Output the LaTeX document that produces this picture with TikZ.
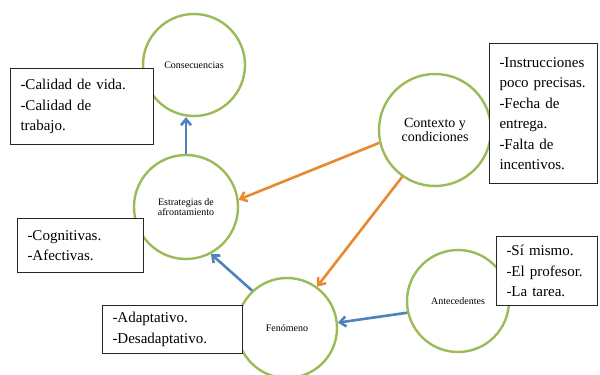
\documentclass[tikz,border=0pt]{standalone}
\usepackage{fontspec}
\setmainfont{Liberation Serif}
\usetikzlibrary{arrows.meta}
\definecolor{VerdeOliva}{HTML}{9BBB59}
\definecolor{AzulFlecha}{HTML}{4F81BD}
\definecolor{NaranjaFlecha}{HTML}{E8892E}
\tikzset{
  circulo/.style       = {circle, draw=VerdeOliva, line width=2.4pt, align=center,
                          inner sep=0pt, font=\fontsize{10}{10.5}\selectfont},
  caja/.style          = {draw=black!85, line width=1pt, fill=white, anchor=north west,
                          align=left, inner xsep=10pt, inner ysep=0pt,
                          font=\fontsize{15}{20.5}\selectfont},
  flechaazul/.style    = {-{Straight Barb[length=6pt,width=10pt]}, draw=AzulFlecha,
                          line width=2.6pt},
  flechanaranja/.style = {-{Straight Barb[length=6pt,width=10pt]}, draw=NaranjaFlecha,
                          line width=2.6pt},
}
\begin{document}
\begin{tikzpicture}[x=1pt,y=-1pt]
  \useasboundingbox (0,0) rectangle (600,375);
  % circulos
  \node[circulo, minimum size=102pt] (cons) at (194,65)  {Consecuencias};
  \node[circulo, minimum size=104pt] (estr) at (186,207) {Estrategias de\\afrontamiento};
  \node[circulo, minimum size=112pt, font=\fontsize{14}{13.5}\selectfont]
                                     (cont) at (435,130) {Contexto y\\condiciones};
  \node[circulo, minimum size=100pt] (fen)  at (287,328) {Fenómeno};
  \node[circulo, minimum size=102pt] (ante) at (458,301) {Antecedentes};
  % flechas
  \draw[flechaazul]    (estr.north) -- (estr.north |- cons.south);
  \draw[flechanaranja] (cont.193) -- (estr.8);
  \draw[flechanaranja] (cont.235) -- (fen.54);
  \draw[flechaazul]    (fen.133)  -- (estr.-62);
  \draw[flechaazul]    (ante.193) -- (fen.6);
  % cajas
  \node[caja, text width=123pt, minimum height=76pt]  (ccons) at (10,68)
    {-Calidad de vida.\\-Calidad de\\trabajo.};
  \node[caja, text width=88pt,  minimum height=140pt] (ccont) at (489,43)
    {-Instrucciones\\poco precisas.\\-Fecha de\\entrega.\\-Falta de\\incentivos.};
  \node[caja, text width=106pt, minimum height=54pt]  (cestr) at (17,218)
    {-Cognitivas.\\-Afectivas.};
  \node[caja, text width=120pt, minimum height=48pt]  (cfen)  at (102,305)
    {-Adaptativo.\\-Desadaptativo.};
  \node[caja, text width=81pt,  minimum height=69pt]  (cante) at (496,236)
    {-Sí mismo.\\-El profesor.\\-La tarea.};
\end{tikzpicture}
\end{document}
